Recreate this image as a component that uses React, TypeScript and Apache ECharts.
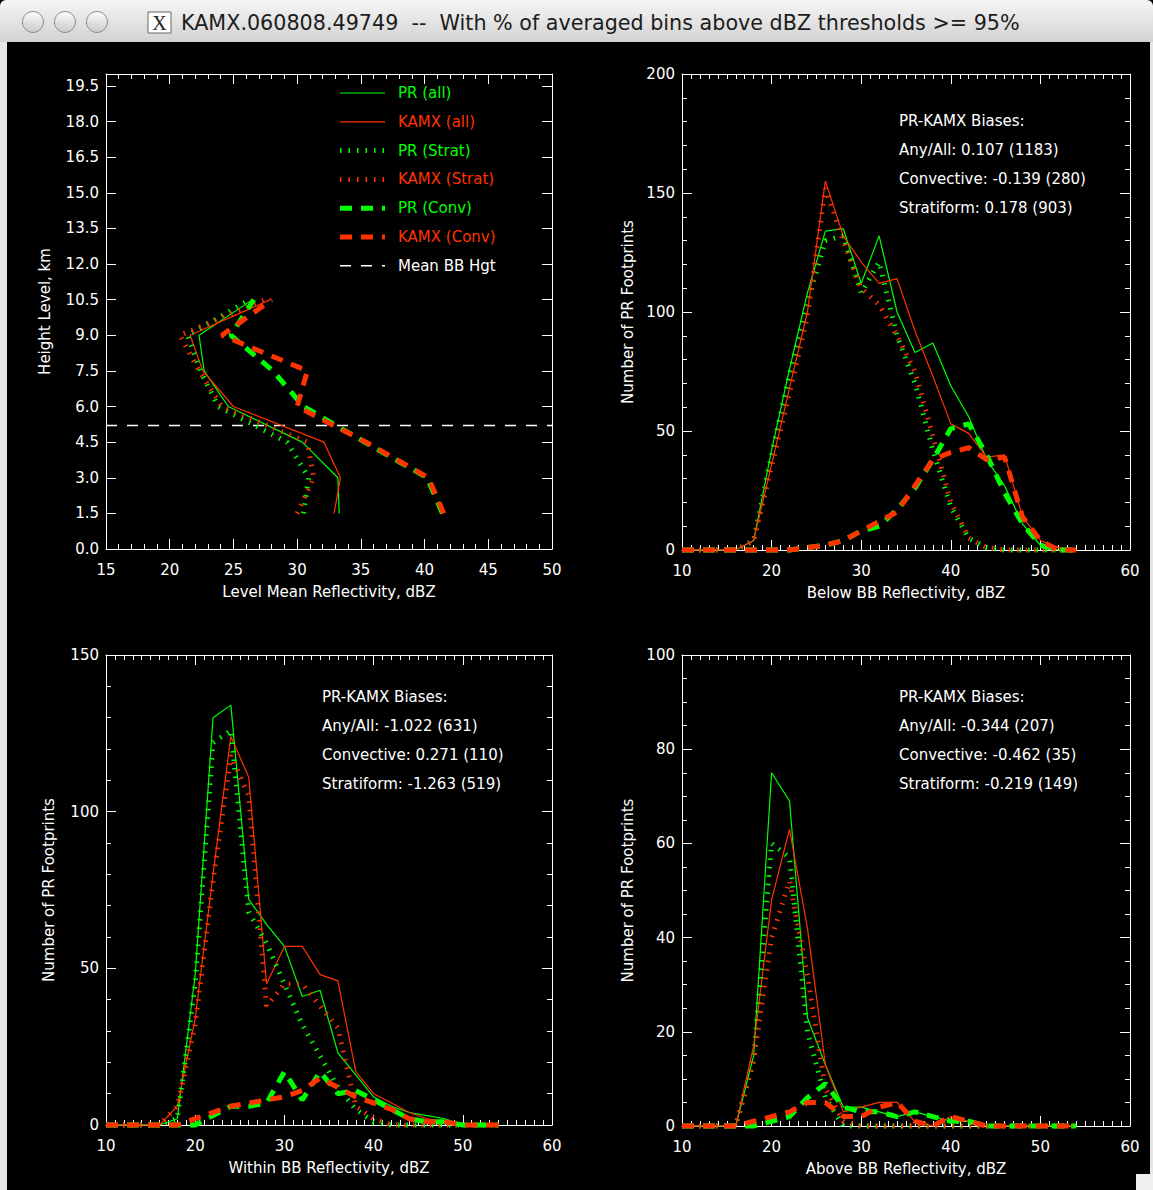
import React, { useEffect, useRef } from 'react';
import * as echarts from 'echarts';

const GREEN = '#00ff00';
const RED = '#ff3300';
const WHITE = '#ffffff';
const FONT = 'DejaVu Sans';

const windowTitle = 'KAMX.060808.49749  --  With % of averaged bins above dBZ thresholds >= 95%';

// ---------- Panel 1: level mean reflectivity profiles ----------
const levels = [1.5, 3.0, 4.5, 6.0, 7.5, 9.0, 10.5];
const prAllProfile = [33.3, 33.2, 30.4, 24.6, 22.7, 22.3, 26.5];
const kamxAllProfile = [32.9, 33.4, 32.1, 25.0, 22.6, 21.6, 27.9];
const prStratProfile = [30.5, 30.9, 29.2, 23.8, 22.4, 21.4, 26.3];
const kamxStratProfile = [30.0, 31.3, 30.8, 24.1, 22.3, 20.8, 27.5];
const prConvProfile = [41.4, 40.2, 35.3, 30.5, 28.1, 24.8, 26.6];
const kamxConvProfile = [41.5, 40.3, 35.4, 30.0, 30.8, 24.1, 28.0];
const meanBBHeight = 5.2;
const legendLabels = ['PR (all)', 'KAMX (all)', 'PR (Strat)', 'KAMX (Strat)', 'PR (Conv)', 'KAMX (Conv)', 'Mean BB Hgt'];

// ---------- Histogram bins (dBZ) ----------
const bins = [10, 12, 14, 16, 18, 20, 22, 24, 26, 28, 30, 32, 34, 36, 38, 40, 42, 44, 46, 48, 50, 52, 54];

// Below BB
const belowPrAll = [0, 0, 0, 0, 4, 42, 76, 108, 134, 135, 112, 132, 100, 83, 87, 69, 56, 38, 27, 11, 2, 0, 0];
const belowKamxAll = [0, 0, 0, 0, 4, 36, 68, 100, 155, 132, 121, 112, 114, 92, 73, 53, 49, 39, 40, 14, 4, 1, 0];
const belowPrStrat = [0, 0, 0, 0, 4, 40, 74, 104, 130, 132, 108, 121, 90, 70, 42, 18, 5, 1, 0, 0, 0, 0, 0];
const belowKamxStrat = [0, 0, 0, 0, 4, 35, 66, 98, 152, 130, 110, 103, 90, 75, 48, 20, 5, 1, 0, 0, 0, 0, 0];
const belowPrConv = [0, 0, 0, 0, 0, 0, 0, 1, 2, 4, 8, 10, 17, 26, 38, 51, 53, 40, 24, 11, 2, 0, 0];
const belowKamxConv = [0, 0, 0, 0, 0, 0, 0, 1, 2, 4, 8, 12, 16, 27, 38, 41, 43, 38, 39, 14, 4, 0, 0];
const belowBiases = ['PR-KAMX Biases:', 'Any/All: 0.107 (1183)', 'Convective: -0.139 (280)', 'Stratiform: 0.178 (903)'];

// Within BB
const withinPrAll = [0, 0, 0, 0, 2, 48, 130, 134, 72, 64, 57, 41, 43, 23, 16, 9, 6, 4, 3, 2, 0, 0, 0];
const withinKamxAll = [0, 0, 0, 0, 6, 34, 80, 124, 111, 45, 57, 57, 48, 46, 17, 10, 7, 4, 2, 1, 0, 0, 0];
const withinPrStrat = [0, 0, 0, 0, 2, 45, 122, 126, 68, 58, 45, 32, 22, 12, 5, 1, 0, 0, 0, 0, 0, 0, 0];
const withinKamxStrat = [0, 0, 0, 0, 6, 32, 78, 118, 105, 38, 45, 45, 38, 31, 6, 2, 0, 0, 0, 0, 0, 0, 0];
const withinPrConv = [0, 0, 0, 0, 0, 0, 3, 6, 6, 7, 17, 8, 17, 10, 11, 8, 5, 2, 1, 1, 0, 0, 0];
const withinKamxConv = [0, 0, 0, 0, 0, 2, 4, 6, 7, 8, 9, 11, 15, 12, 9, 7, 5, 2, 1, 1, 0, 0, 0];
const withinBiases = ['PR-KAMX Biases:', 'Any/All: -1.022 (631)', 'Convective: 0.271 (110)', 'Stratiform: -1.263 (519)'];

// Above BB
const abovePrAll = [0, 0, 0, 0, 15, 75, 69, 23, 13, 4, 4, 3, 2, 3, 2, 1, 1, 0, 0, 0, 0, 0, 0];
const aboveKamxAll = [0, 0, 0, 0, 17, 48, 63, 42, 13, 3, 4, 5, 5, 1, 0, 2, 1, 0, 0, 0, 0, 0, 0];
const abovePrStrat = [0, 0, 0, 0, 14, 60, 57, 20, 6, 0, 0, 0, 0, 0, 0, 0, 0, 0, 0, 0, 0, 0, 0];
const aboveKamxStrat = [0, 0, 0, 0, 14, 40, 52, 32, 8, 1, 0, 0, 0, 0, 0, 0, 0, 0, 0, 0, 0, 0, 0];
const abovePrConv = [0, 0, 0, 0, 0, 1, 2, 6, 9, 4, 3, 3, 2, 3, 2, 1, 1, 0, 0, 0, 0, 0, 0];
const aboveKamxConv = [0, 0, 0, 0, 1, 2, 3, 5, 5, 2, 2, 4, 5, 1, 0, 2, 1, 0, 0, 0, 0, 0, 0];
const aboveBiases = ['PR-KAMX Biases:', 'Any/All: -0.344 (207)', 'Convective: -0.462 (35)', 'Stratiform: -0.219 (149)'];

// ---------- styles ----------
const solidStyle = (c: string) => ({ color: c, width: 1.2, type: 'solid' as const });
const stratStyle = (c: string) => ({ color: c, width: 5, type: [1.5, 7] as any, cap: 'butt' as const });
const convStyle = (c: string) => ({ color: c, width: 5, type: [12, 9] as any, cap: 'butt' as const });

const textStyle = { color: WHITE, fontFamily: FONT, fontSize: 15 };

type GridDef = { left: number; top: number; width: number; height: number };
const grids: GridDef[] = [
  { left: 106, top: 74, width: 446, height: 475 },
  { left: 682, top: 74, width: 448, height: 476 },
  { left: 106, top: 655, width: 446, height: 470 },
  { left: 682, top: 655, width: 448, height: 471 },
];

function makeXAxes(g: number, min: number, max: number, interval: number, minorSplit: number, name: string) {
  const base: any = {
    type: 'value',
    gridIndex: g,
    min,
    max,
    interval,
    axisLine: { onZero: false, lineStyle: { color: WHITE, width: 1 } },
    axisTick: { inside: true, length: 10, lineStyle: { color: WHITE, width: 1 } },
    minorTick: { show: minorSplit > 0, splitNumber: minorSplit || 5, length: 5, lineStyle: { color: WHITE, width: 1 } },
    splitLine: { show: false },
    minorSplitLine: { show: false },
  };
  return [
    {
      ...base,
      position: 'bottom',
      axisLabel: { ...textStyle, margin: 13 },
      name,
      nameLocation: 'middle',
      nameGap: 35,
      nameTextStyle: { ...textStyle },
    },
    { ...base, position: 'top', axisLabel: { show: false } },
  ];
}

function makeYAxes(g: number, min: number, max: number, interval: number, minorSplit: number, name: string, nameGap: number, fmt?: (v: number) => string) {
  const base: any = {
    type: 'value',
    gridIndex: g,
    min,
    max,
    interval,
    axisLine: { onZero: false, lineStyle: { color: WHITE, width: 1 } },
    axisTick: { inside: true, length: 10, lineStyle: { color: WHITE, width: 1 } },
    minorTick: { show: minorSplit > 0, splitNumber: minorSplit || 5, length: 5, lineStyle: { color: WHITE, width: 1 } },
    splitLine: { show: false },
    minorSplitLine: { show: false },
  };
  return [
    {
      ...base,
      position: 'left',
      axisLabel: { ...textStyle, margin: 7, showMaxLabel: fmt ? false : true, formatter: fmt },
      name,
      nameLocation: 'middle',
      nameGap,
      nameTextStyle: { ...textStyle },
    },
    { ...base, position: 'right', axisLabel: { show: false } },
  ];
}

function lineSeries(g: number, data: number[][], lineStyle: any, z: number) {
  return {
    type: 'line',
    xAxisIndex: g * 2,
    yAxisIndex: g * 2,
    data,
    symbol: 'none',
    silent: true,
    clip: false,
    z,
    lineStyle,
  };
}

function histSeries(g: number, vals: number[][]) {
  const [pa, ka, ps, ks, pc, kc] = vals;
  const toXY = (v: number[]) => bins.map((b, i) => [b, v[i]]);
  return [
    lineSeries(g, toXY(pa), solidStyle(GREEN), 3),
    lineSeries(g, toXY(ka), solidStyle(RED), 3),
    lineSeries(g, toXY(ps), stratStyle(GREEN), 4),
    lineSeries(g, toXY(ks), stratStyle(RED), 4),
    lineSeries(g, toXY(pc), convStyle(GREEN), 5),
    lineSeries(g, toXY(kc), convStyle(RED), 5),
  ];
}

function profileSeries() {
  const toXY = (v: number[]) => levels.map((h, i) => [v[i], h]);
  return [
    lineSeries(0, toXY(prAllProfile), solidStyle(GREEN), 3),
    lineSeries(0, toXY(kamxAllProfile), solidStyle(RED), 3),
    lineSeries(0, toXY(prStratProfile), stratStyle(GREEN), 4),
    lineSeries(0, toXY(kamxStratProfile), stratStyle(RED), 4),
    lineSeries(0, toXY(prConvProfile), convStyle(GREEN), 5),
    lineSeries(0, toXY(kamxConvProfile), convStyle(RED), 5),
    lineSeries(0, [[15, meanBBHeight], [50, meanBBHeight]], { color: WHITE, width: 1.5, type: [11, 10], cap: 'butt' }, 2),
  ];
}

function biasTexts(x: number, y0: number, lines: string[]) {
  return lines.map((t, i) => ({
    type: 'text',
    x,
    y: y0 + i * 29,
    silent: true,
    style: { text: t, fill: WHITE, font: `15px "${FONT}"`, textAlign: 'left', textVerticalAlign: 'middle' },
  }));
}

function legendGraphics() {
  const colors = [GREEN, RED, GREEN, RED, GREEN, RED, WHITE];
  const styles: any[] = [
    { lineWidth: 1.2 },
    { lineWidth: 1.2 },
    { lineWidth: 5, lineDash: [1.5, 7], lineCap: 'butt' },
    { lineWidth: 5, lineDash: [1.5, 7], lineCap: 'butt' },
    { lineWidth: 5, lineDash: [12, 9], lineCap: 'butt' },
    { lineWidth: 5, lineDash: [12, 9], lineCap: 'butt' },
    { lineWidth: 1.5, lineDash: [11, 10], lineCap: 'butt' },
  ];
  const els: any[] = [];
  legendLabels.forEach((lab, i) => {
    const y = 93 + i * 28.8;
    els.push({ type: 'line', silent: true, shape: { x1: 340, y1: y, x2: 385, y2: y }, style: { stroke: colors[i], ...styles[i] } });
    els.push({
      type: 'text', x: 398, y, silent: true,
      style: { text: lab, fill: colors[i], font: `15px "${FONT}"`, textAlign: 'left', textVerticalAlign: 'middle' },
    });
  });
  return els;
}

function chromeGraphics() {
  const barGrad = new echarts.graphic.LinearGradient(0, 0, 0, 1, [
    { offset: 0, color: '#f6f6f6' },
    { offset: 1, color: '#d2d2d2' },
  ]);
  const btnGrad = new echarts.graphic.LinearGradient(0, 0, 0, 1, [
    { offset: 0, color: '#fdfdfd' },
    { offset: 1, color: '#c9c9c9' },
  ]);
  const els: any[] = [
    { type: 'rect', silent: true, z: -10, shape: { x: 0, y: 0, width: 1153, height: 42, r: [6, 6, 0, 0] }, style: { fill: barGrad } },
    { type: 'rect', silent: true, z: -10, shape: { x: 0, y: 42, width: 7, height: 1148 }, style: { fill: '#e6e6e6' } },
    { type: 'rect', silent: true, z: -10, shape: { x: 1150, y: 42, width: 3, height: 1148 }, style: { fill: '#e6e6e6' } },
    { type: 'rect', silent: true, z: -10, shape: { x: 1136, y: 1174, width: 17, height: 16 }, style: { fill: '#f0f0f0' } },
  ];
  [33, 65, 97].forEach((cx) => {
    els.push({ type: 'circle', silent: true, shape: { cx, cy: 22, r: 10.5 }, style: { fill: btnGrad, stroke: '#8e8e8e', lineWidth: 1 } });
  });
  els.push({ type: 'rect', silent: true, shape: { x: 148, y: 12, width: 23, height: 21 }, style: { fill: '#ffffff', stroke: '#666666', lineWidth: 1 } });
  els.push({
    type: 'text', x: 159.5, y: 23, silent: true,
    style: { text: 'X', fill: '#222222', font: '20px "Liberation Serif"', textAlign: 'center', textVerticalAlign: 'middle' },
  });
  els.push({
    type: 'text', x: 181, y: 23, silent: true,
    style: { text: windowTitle, fill: '#1c1c1c', font: '20.7px "DejaVu Sans"', textAlign: 'left', textVerticalAlign: 'middle' },
  });
  return els;
}

export default function App() {
  const ref = useRef<HTMLDivElement>(null);
  useEffect(() => {
    if (!ref.current) return;
    const chart = echarts.init(ref.current, undefined, { renderer: 'svg' });
    const fmt1 = (v: number) => (Math.round(v * 10) / 10).toFixed(1);
    const option: any = {
      animation: false,
      backgroundColor: '#000000',
      grid: grids.map((g) => ({ ...g, containLabel: false })),
      xAxis: [
        ...makeXAxes(0, 15, 50, 5, 5, 'Level Mean Reflectivity, dBZ'),
        ...makeXAxes(1, 10, 60, 10, 10, 'Below BB Reflectivity, dBZ'),
        ...makeXAxes(2, 10, 60, 10, 10, 'Within BB Reflectivity, dBZ'),
        ...makeXAxes(3, 10, 60, 10, 10, 'Above BB Reflectivity, dBZ'),
      ],
      yAxis: [
        ...makeYAxes(0, 0, 20, 1.5, 0, 'Height Level, km', 54, fmt1),
        ...makeYAxes(1, 0, 200, 50, 5, 'Number of PR Footprints', 47),
        ...makeYAxes(2, 0, 150, 50, 5, 'Number of PR Footprints', 50),
        ...makeYAxes(3, 0, 100, 20, 4, 'Number of PR Footprints', 47),
      ],
      series: [
        ...profileSeries(),
        ...histSeries(1, [belowPrAll, belowKamxAll, belowPrStrat, belowKamxStrat, belowPrConv, belowKamxConv]),
        ...histSeries(2, [withinPrAll, withinKamxAll, withinPrStrat, withinKamxStrat, withinPrConv, withinKamxConv]),
        ...histSeries(3, [abovePrAll, aboveKamxAll, abovePrStrat, aboveKamxStrat, abovePrConv, aboveKamxConv]),
      ],
      graphic: [
        ...chromeGraphics(),
        ...legendGraphics(),
        ...biasTexts(899, 121, belowBiases),
        ...biasTexts(322, 697, withinBiases),
        ...biasTexts(899, 697, aboveBiases),
      ],
    };
    chart.setOption(option);
    return () => chart.dispose();
  }, []);
  return <div ref={ref} style={{ position: 'absolute', left: 0, top: 0, width: 1153, height: 1190 }} />;
}
